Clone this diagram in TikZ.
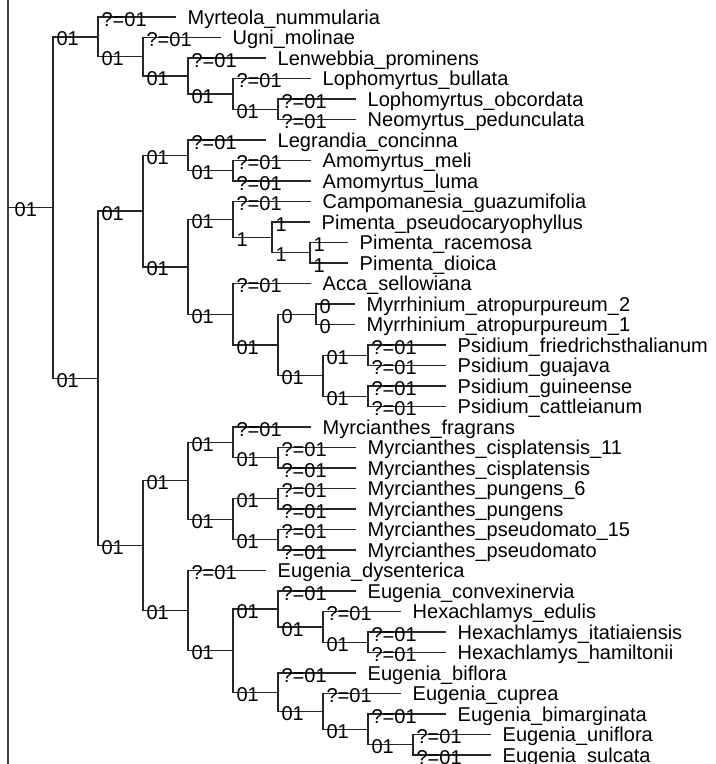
\documentclass[tikz,border=0pt]{standalone}
\usepackage{fontspec}
\setmainfont{Liberation Sans}
\usepackage{tikz}
\tikzset{
  branch/.style={
    draw=black!85,
    line width=1pt
  },
  brlab/.style={
    anchor=west,
    inner xsep=2.2pt,
    inner ysep=0pt,
    text height=10.7pt,
    text depth=0pt,
    yshift=-1.5pt,
    font=\fontsize{15pt}{18pt}\selectfont
  },
  tipname/.style={
    anchor=west,
    inner xsep=8.6pt,
    inner ysep=0pt,
    text height=10.7pt,
    text depth=0pt,
    font=\fontsize{15pt}{18pt}\selectfont
  },
  frameline/.style={
    draw=black!75,
    line width=1.5pt
  },
  every picture/.style={
    x=0.75pt,
    y=-0.75pt
  }
}

\begin{document}
\begin{tikzpicture}
    \useasboundingbox (0,0) rectangle (716,764);
    \draw[frameline] (8,0) -- (8,764);
    % clades
    \coordinate (base) at (8,207.63);
    \coordinate (root) at (53,207.63);
    \coordinate (myrt) at (98,36.86);
    \coordinate (ugni) at (143,56.72);
    \coordinate (lenw) at (188,75.94);
    \coordinate (loph) at (233,93.88);
    \coordinate (neom) at (278,109.25);
    \coordinate (core) at (98,378.39);
    \coordinate (mainA) at (143,211.11);
    \coordinate (legr) at (188,155.38);
    \coordinate (amom) at (233,170.75);
    \coordinate (pimA) at (188,266.84);
    \coordinate (camp) at (233,219.44);
    \coordinate (pim) at (272,237.38);
    \coordinate (pimB) at (310,252.75);
    \coordinate (acca) at (233,314.25);
    \coordinate (psAll) at (278,345);
    \coordinate (myrr) at (316,314.25);
    \coordinate (psid) at (323,375.75);
    \coordinate (psA) at (368,355.25);
    \coordinate (psB) at (368,396.25);
    \coordinate (mainB) at (143,545.68);
    \coordinate (myrc) at (188,480.81);
    \coordinate (myrcA) at (233,442.38);
    \coordinate (cisp) at (278,457.75);
    \coordinate (myrcB) at (233,519.25);
    \coordinate (pung) at (278,498.75);
    \coordinate (pseu) at (278,539.75);
    \coordinate (eug) at (188,610.54);
    \coordinate (eugA) at (233,650.58);
    \coordinate (conv) at (278,608.94);
    \coordinate (hexA) at (323,626.88);
    \coordinate (hexB) at (368,642.25);
    \coordinate (bifl) at (278,692.22);
    \coordinate (cupr) at (323,711.44);
    \coordinate (bima) at (368,729.38);
    \coordinate (unif) at (413,744.75);
    % tips
    \node[tipname] (t1) at (176,17) {Myrteola\_nummularia};
    \node[tipname] (t2) at (221,37.5) {Ugni\_molinae};
    \node[tipname] (t3) at (266,58) {Lenwebbia\_prominens};
    \node[tipname] (t4) at (311,78.5) {Lophomyrtus\_bullata};
    \node[tipname] (t5) at (356,99) {Lophomyrtus\_obcordata};
    \node[tipname] (t6) at (356,119.5) {Neomyrtus\_pedunculata};
    \node[tipname] (t7) at (266,140) {Legrandia\_concinna};
    \node[tipname] (t8) at (311,160.5) {Amomyrtus\_meli};
    \node[tipname] (t9) at (311,181) {Amomyrtus\_luma};
    \node[tipname] (t10) at (311,201.5) {Campomanesia\_guazumifolia};
    \node[tipname] (t11) at (310,222) {Pimenta\_pseudocaryophyllus};
    \node[tipname] (t12) at (348,242.5) {Pimenta\_racemosa};
    \node[tipname] (t13) at (348,263) {Pimenta\_dioica};
    \node[tipname] (t14) at (311,283.5) {Acca\_sellowiana};
    \node[tipname] (t15) at (355,304) {Myrrhinium\_atropurpureum\_2};
    \node[tipname] (t16) at (355,324.5) {Myrrhinium\_atropurpureum\_1};
    \node[tipname] (t17) at (446,345) {Psidium\_friedrichsthalianum};
    \node[tipname] (t18) at (446,365.5) {Psidium\_guajava};
    \node[tipname] (t19) at (446,386) {Psidium\_guineense};
    \node[tipname] (t20) at (446,406.5) {Psidium\_cattleianum};
    \node[tipname] (t21) at (311,427) {Myrcianthes\_fragrans};
    \node[tipname] (t22) at (356,447.5) {Myrcianthes\_cisplatensis\_11};
    \node[tipname] (t23) at (356,468) {Myrcianthes\_cisplatensis};
    \node[tipname] (t24) at (356,488.5) {Myrcianthes\_pungens\_6};
    \node[tipname] (t25) at (356,509) {Myrcianthes\_pungens};
    \node[tipname] (t26) at (356,529.5) {Myrcianthes\_pseudomato\_15};
    \node[tipname] (t27) at (356,550) {Myrcianthes\_pseudomato};
    \node[tipname] (t28) at (266,570.5) {Eugenia\_dysenterica};
    \node[tipname] (t29) at (356,591) {Eugenia\_convexinervia};
    \node[tipname] (t30) at (401,611.5) {Hexachlamys\_edulis};
    \node[tipname] (t31) at (446,632) {Hexachlamys\_itatiaiensis};
    \node[tipname] (t32) at (446,652.5) {Hexachlamys\_hamiltonii};
    \node[tipname] (t33) at (356,673) {Eugenia\_biflora};
    \node[tipname] (t34) at (401,693.5) {Eugenia\_cuprea};
    \node[tipname] (t35) at (446,714) {Eugenia\_bimarginata};
    \node[tipname] (t36) at (491,734.5) {Eugenia\_uniflora};
    \node[tipname] (t37) at (491,755) {Eugenia\_sulcata};
    % branches
    \draw[branch] (base) -- (root) node[pos=0,brlab,inner xsep=4.5pt] {01};
    \draw[branch] (root) |- (myrt) node[pos=0.5,brlab] {01};
    \draw[branch] (myrt) |- (t1.west) node[pos=0.5,brlab] {?=01};
    \draw[branch] (myrt) |- (ugni) node[pos=0.5,brlab] {01};
    \draw[branch] (ugni) |- (t2.west) node[pos=0.5,brlab] {?=01};
    \draw[branch] (ugni) |- (lenw) node[pos=0.5,brlab] {01};
    \draw[branch] (lenw) |- (t3.west) node[pos=0.5,brlab] {?=01};
    \draw[branch] (lenw) |- (loph) node[pos=0.5,brlab] {01};
    \draw[branch] (loph) |- (t4.west) node[pos=0.5,brlab] {?=01};
    \draw[branch] (loph) |- (neom) node[pos=0.5,brlab] {01};
    \draw[branch] (neom) |- (t5.west) node[pos=0.5,brlab] {?=01};
    \draw[branch] (neom) |- (t6.west) node[pos=0.5,brlab] {?=01};
    \draw[branch] (root) |- (core) node[pos=0.5,brlab] {01};
    \draw[branch] (core) |- (mainA) node[pos=0.5,brlab] {01};
    \draw[branch] (mainA) |- (legr) node[pos=0.5,brlab] {01};
    \draw[branch] (legr) |- (t7.west) node[pos=0.5,brlab] {?=01};
    \draw[branch] (legr) |- (amom) node[pos=0.5,brlab] {01};
    \draw[branch] (amom) |- (t8.west) node[pos=0.5,brlab] {?=01};
    \draw[branch] (amom) |- (t9.west) node[pos=0.5,brlab] {?=01};
    \draw[branch] (mainA) |- (pimA) node[pos=0.5,brlab] {01};
    \draw[branch] (pimA) |- (camp) node[pos=0.5,brlab] {01};
    \draw[branch] (camp) |- (t10.west) node[pos=0.5,brlab] {?=01};
    \draw[branch] (camp) |- (pim) node[pos=0.5,brlab] {1};
    \draw[branch] (pim) |- (t11.west) node[pos=0.5,brlab] {1};
    \draw[branch] (pim) |- (pimB) node[pos=0.5,brlab] {1};
    \draw[branch] (pimB) |- (t12.west) node[pos=0.5,brlab] {1};
    \draw[branch] (pimB) |- (t13.west) node[pos=0.5,brlab] {1};
    \draw[branch] (pimA) |- (acca) node[pos=0.5,brlab] {01};
    \draw[branch] (acca) |- (t14.west) node[pos=0.5,brlab] {?=01};
    \draw[branch] (acca) |- (psAll) node[pos=0.5,brlab] {01};
    \draw[branch] (psAll) |- (myrr) node[pos=0.5,brlab] {0};
    \draw[branch] (myrr) |- (t15.west) node[pos=0.5,brlab] {0};
    \draw[branch] (myrr) |- (t16.west) node[pos=0.5,brlab] {0};
    \draw[branch] (psAll) |- (psid) node[pos=0.5,brlab] {01};
    \draw[branch] (psid) |- (psA) node[pos=0.5,brlab] {01};
    \draw[branch] (psA) |- (t17.west) node[pos=0.5,brlab] {?=01};
    \draw[branch] (psA) |- (t18.west) node[pos=0.5,brlab] {?=01};
    \draw[branch] (psid) |- (psB) node[pos=0.5,brlab] {01};
    \draw[branch] (psB) |- (t19.west) node[pos=0.5,brlab] {?=01};
    \draw[branch] (psB) |- (t20.west) node[pos=0.5,brlab] {?=01};
    \draw[branch] (core) |- (mainB) node[pos=0.5,brlab] {01};
    \draw[branch] (mainB) |- (myrc) node[pos=0.5,brlab] {01};
    \draw[branch] (myrc) |- (myrcA) node[pos=0.5,brlab] {01};
    \draw[branch] (myrcA) |- (t21.west) node[pos=0.5,brlab] {?=01};
    \draw[branch] (myrcA) |- (cisp) node[pos=0.5,brlab] {01};
    \draw[branch] (cisp) |- (t22.west) node[pos=0.5,brlab] {?=01};
    \draw[branch] (cisp) |- (t23.west) node[pos=0.5,brlab] {?=01};
    \draw[branch] (myrc) |- (myrcB) node[pos=0.5,brlab] {01};
    \draw[branch] (myrcB) |- (pung) node[pos=0.5,brlab] {01};
    \draw[branch] (pung) |- (t24.west) node[pos=0.5,brlab] {?=01};
    \draw[branch] (pung) |- (t25.west) node[pos=0.5,brlab] {?=01};
    \draw[branch] (myrcB) |- (pseu) node[pos=0.5,brlab] {01};
    \draw[branch] (pseu) |- (t26.west) node[pos=0.5,brlab] {?=01};
    \draw[branch] (pseu) |- (t27.west) node[pos=0.5,brlab] {?=01};
    \draw[branch] (mainB) |- (eug) node[pos=0.5,brlab] {01};
    \draw[branch] (eug) |- (t28.west) node[pos=0.5,brlab] {?=01};
    \draw[branch] (eug) |- (eugA) node[pos=0.5,brlab] {01};
    \draw[branch] (eugA) |- (conv) node[pos=0.5,brlab] {01};
    \draw[branch] (conv) |- (t29.west) node[pos=0.5,brlab] {?=01};
    \draw[branch] (conv) |- (hexA) node[pos=0.5,brlab] {01};
    \draw[branch] (hexA) |- (t30.west) node[pos=0.5,brlab] {?=01};
    \draw[branch] (hexA) |- (hexB) node[pos=0.5,brlab] {01};
    \draw[branch] (hexB) |- (t31.west) node[pos=0.5,brlab] {?=01};
    \draw[branch] (hexB) |- (t32.west) node[pos=0.5,brlab] {?=01};
    \draw[branch] (eugA) |- (bifl) node[pos=0.5,brlab] {01};
    \draw[branch] (bifl) |- (t33.west) node[pos=0.5,brlab] {?=01};
    \draw[branch] (bifl) |- (cupr) node[pos=0.5,brlab] {01};
    \draw[branch] (cupr) |- (t34.west) node[pos=0.5,brlab] {?=01};
    \draw[branch] (cupr) |- (bima) node[pos=0.5,brlab] {01};
    \draw[branch] (bima) |- (t35.west) node[pos=0.5,brlab] {?=01};
    \draw[branch] (bima) |- (unif) node[pos=0.5,brlab] {01};
    \draw[branch] (unif) |- (t36.west) node[pos=0.5,brlab] {?=01};
    \draw[branch] (unif) |- (t37.west) node[pos=0.5,brlab] {?=01};
\end{tikzpicture}
\end{document}
